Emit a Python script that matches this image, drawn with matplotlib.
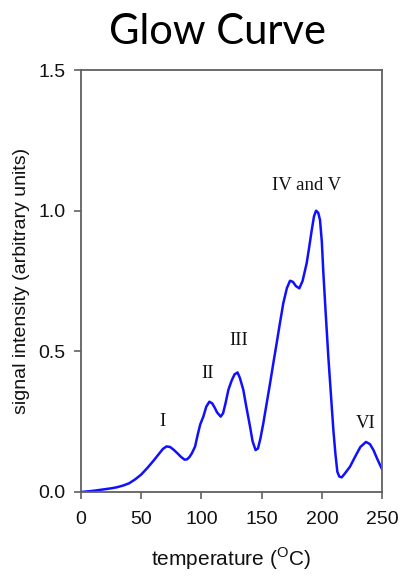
import matplotlib
matplotlib.use("Agg")
import matplotlib.pyplot as plt

# Glow curve readings: temperature (deg C) vs. signal intensity (arbitrary units)
temperature = [0, 5, 10, 15, 20, 25, 30, 35, 40, 45, 50, 55, 60, 65, 68, 71, 74,
               77, 80, 83, 86, 88, 90, 92, 94.7, 97, 99, 101.6, 104, 106.6, 109,
               111, 113, 116, 118, 120, 122.4, 125, 127.5, 130, 132, 134.8, 137,
               140.4, 142.5, 145, 147, 149, 151.4, 154, 157, 160, 162.5, 165, 168,
               171, 173.6, 176, 178.5, 181.3, 184, 187.4, 189.5, 191.6, 193.5,
               195.2, 197, 198.5, 200, 201.3, 203.3, 205.4, 207.5, 209.6, 211.3,
               212.9, 214.5, 216.5, 219, 223.4, 227.6, 232, 236.7, 240, 243, 246,
               250]
intensity = [0.0, 0.002, 0.004, 0.007, 0.010, 0.013, 0.017, 0.023, 0.031, 0.045,
             0.062, 0.085, 0.110, 0.137, 0.153, 0.162, 0.160, 0.150, 0.138, 0.125,
             0.115, 0.116, 0.124, 0.137, 0.161, 0.205, 0.240, 0.268, 0.303, 0.321,
             0.315, 0.300, 0.283, 0.268, 0.280, 0.315, 0.363, 0.395, 0.418, 0.425,
             0.405, 0.363, 0.310, 0.232, 0.180, 0.149, 0.155, 0.190, 0.244, 0.310,
             0.386, 0.465, 0.529, 0.595, 0.671, 0.725, 0.751, 0.747, 0.732, 0.724,
             0.750, 0.813, 0.870, 0.930, 0.980, 1.000, 0.993, 0.967, 0.890, 0.777,
             0.630, 0.481, 0.350, 0.220, 0.135, 0.072, 0.055, 0.052, 0.065, 0.090,
             0.125, 0.160, 0.178, 0.170, 0.148, 0.118, 0.081]

peak_labels = ["I", "II", "III", "IV and V", "VI"]
peak_label_x = [68, 105.5, 131, 187.7, 236]
peak_label_y = [0.25, 0.423, 0.54, 1.088, 0.245]

x_ticks = [0, 50, 100, 150, 200, 250]
y_ticks = [0.0, 0.5, 1.0, 1.5]
y_tick_labels = ["0.0", "0.5", "1.0", "1.5"]

plt.rcParams["mathtext.fontset"] = "custom"
plt.rcParams["mathtext.rm"] = "Liberation Sans"

fig = plt.figure(figsize=(4.02, 5.78), dpi=100)
ax = fig.add_axes([0.2015, 0.1488, 0.7488, 0.7300])

ax.plot(temperature, intensity, color="#1010ff", lw=1.8,
        solid_capstyle="round", solid_joinstyle="round")

for text, lx, ly in zip(peak_labels, peak_label_x, peak_label_y):
    ax.text(lx, ly, text, ha="center", va="center", fontsize=13.5,
            family="Liberation Serif", color="#111111")

ax.set_xlim(0, 250)
ax.set_ylim(0, 1.5)
ax.set_xticks(x_ticks)
ax.set_yticks(y_ticks)
ax.set_yticklabels(y_tick_labels)

for sp in ax.spines.values():
    sp.set_color("#606060")
    sp.set_linewidth(1.3)

ax.tick_params(direction="out", length=5, width=1.2, color="#606060",
               labelsize=14, labelcolor="#111111")
ax.tick_params(axis="x", pad=9)
ax.tick_params(axis="y", pad=6)
for lab in ax.get_xticklabels() + ax.get_yticklabels():
    lab.set_family("Liberation Sans")

ax.set_xlabel("temperature ($^{\\mathrm{O}}$C)", fontsize=15,
              family="Liberation Sans", labelpad=12, color="#111111")
ax.set_ylabel("signal intensity (arbitrary units)", fontsize=14,
              family="Liberation Sans", labelpad=6, color="#111111")

fig.text(0.542, 0.945, "Glow Curve", ha="center", va="center", fontsize=30,
         family="Lato", color="black")

fig.savefig("out.png", dpi=100)
